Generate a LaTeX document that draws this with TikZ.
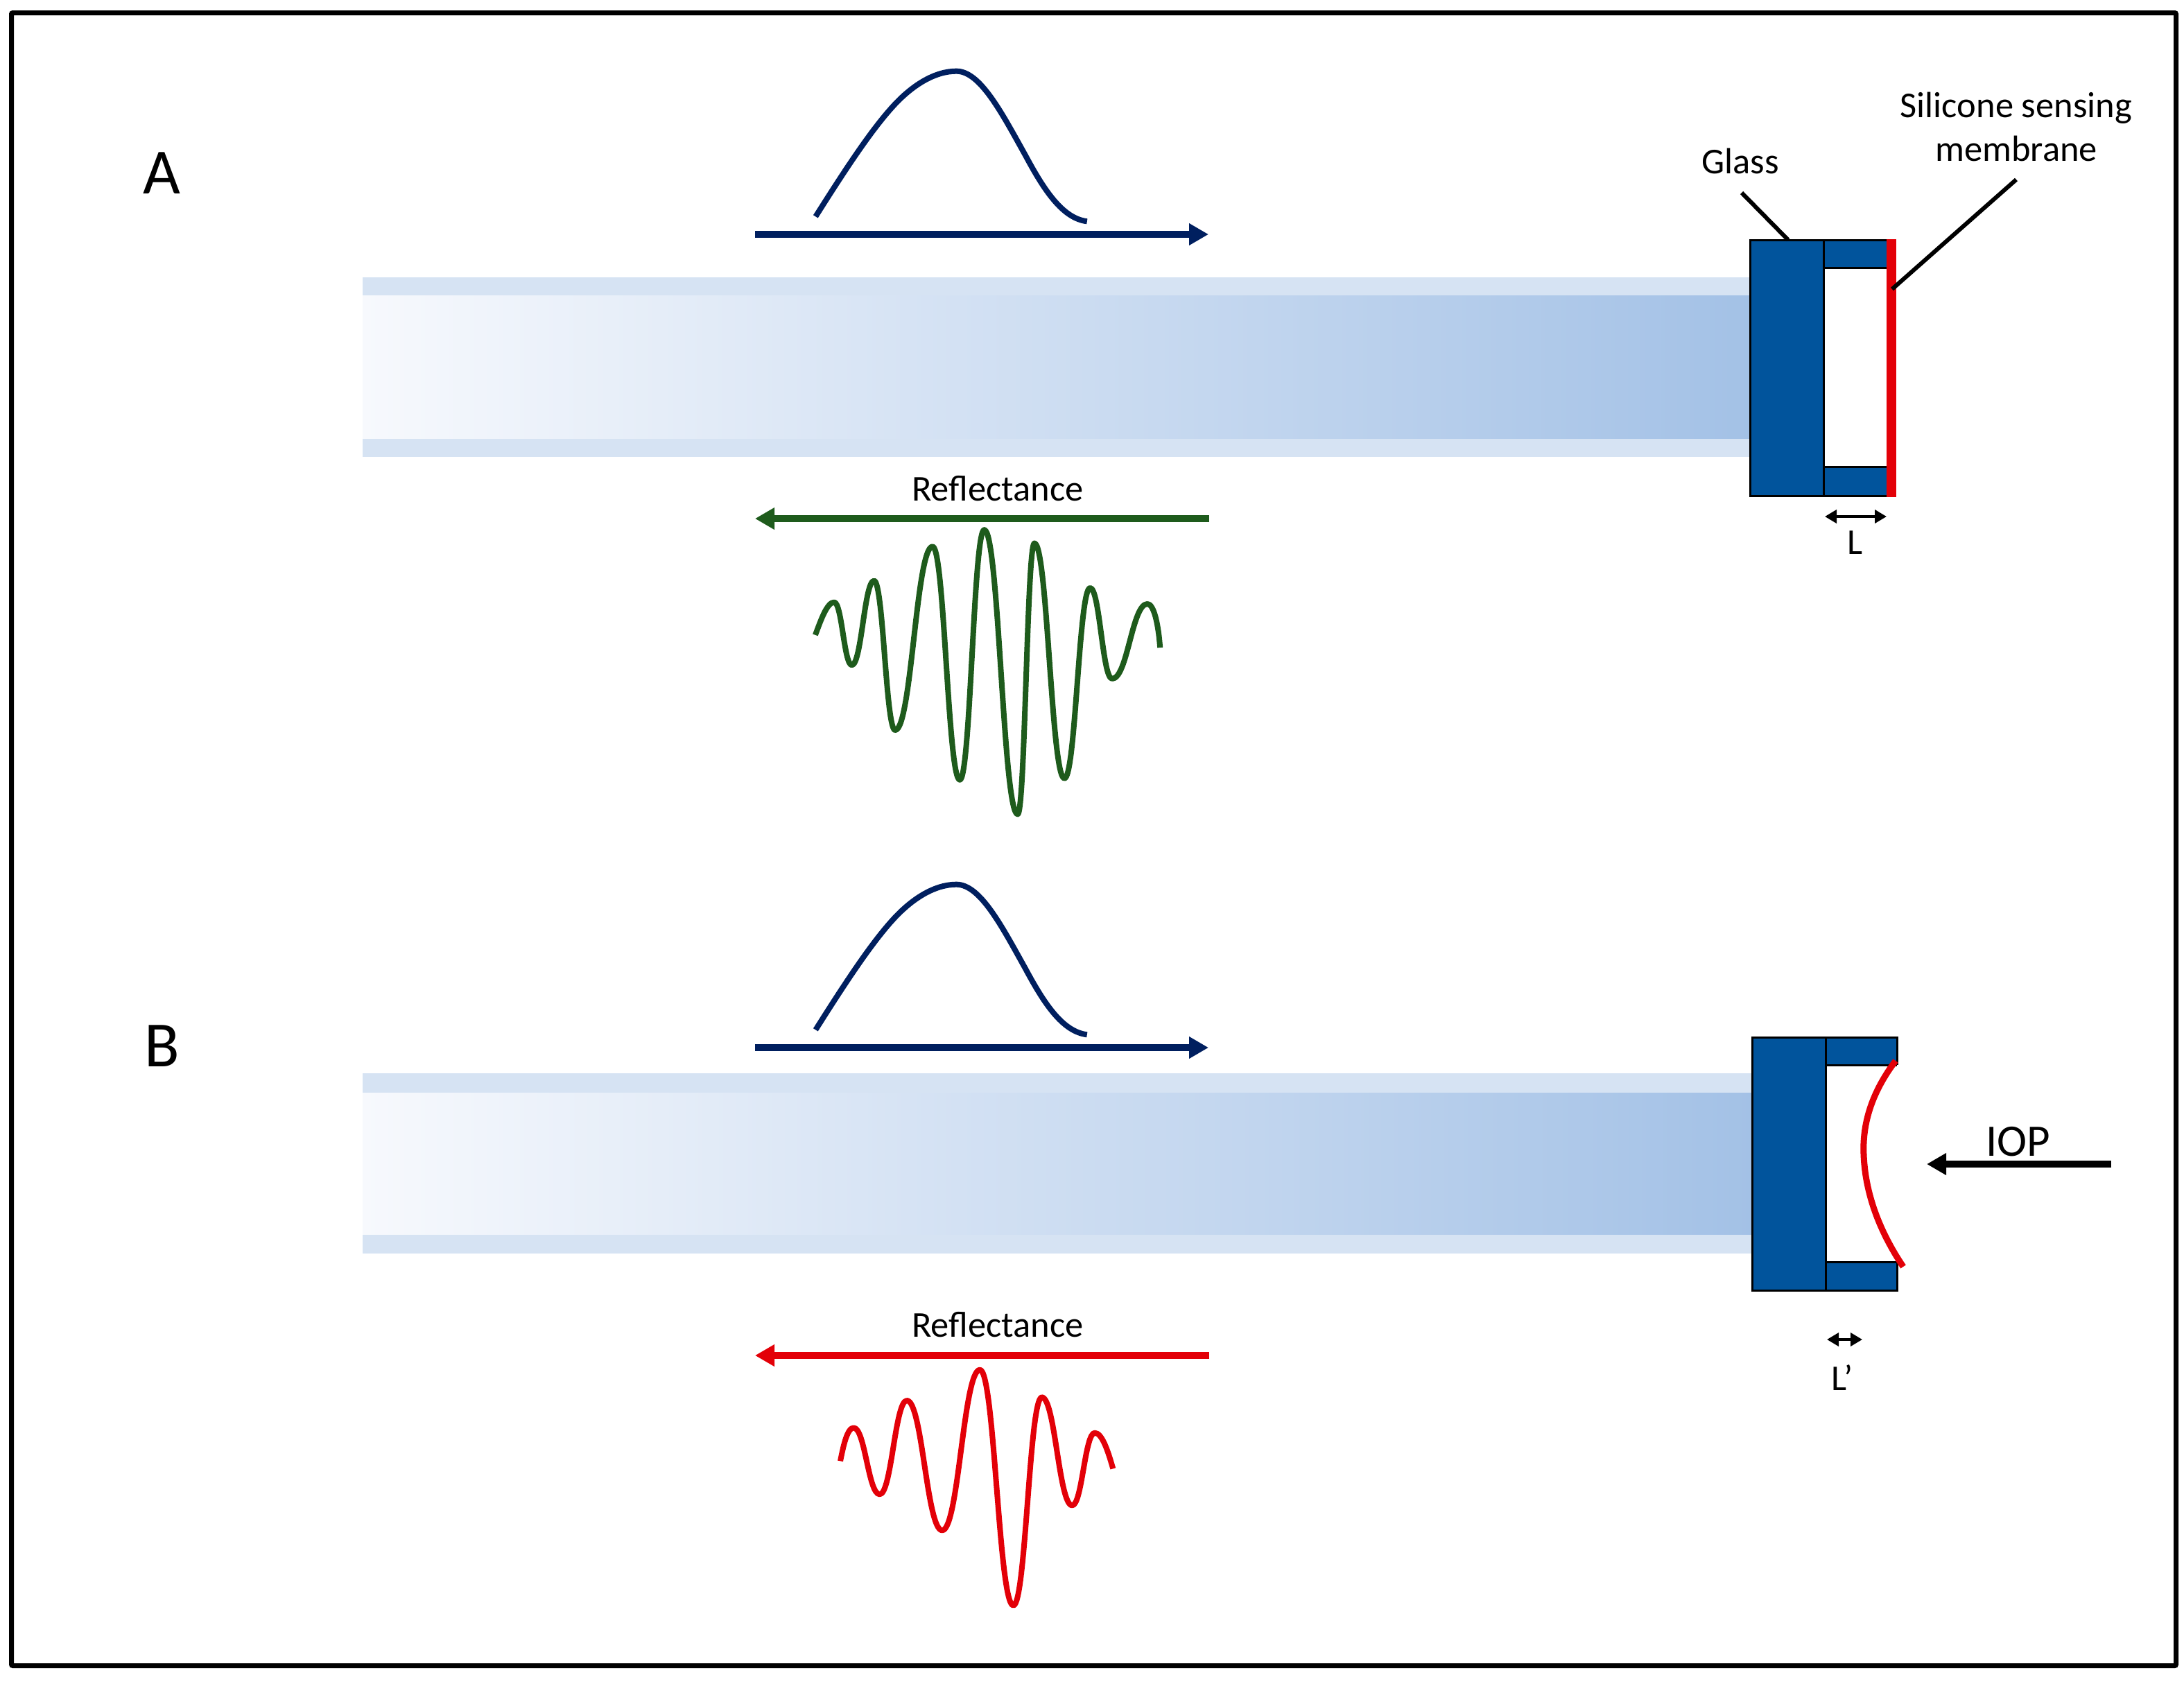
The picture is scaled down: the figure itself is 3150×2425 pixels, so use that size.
\documentclass[tikz,border=0pt]{standalone}
\usepackage{fontspec}
\setmainfont{Carlito}
\usetikzlibrary{arrows.meta}
\definecolor{glassblue}{HTML}{01549C}
\definecolor{band}{HTML}{D6E3F3}
\definecolor{fibL}{HTML}{F7F9FD}
\definecolor{fibM}{HTML}{D6E2F2}
\definecolor{fibR}{HTML}{A3C1E6}
\definecolor{navy}{HTML}{001F5F}
\definecolor{wavegreen}{HTML}{1E5B1C}
\definecolor{sigred}{HTML}{E30008}
\tikzset{
  x=1pt,y=-1pt,
  txt/.style={inner sep=0pt,outer sep=0pt,anchor=base,align=center,font=\fontsize{52.5}{63}\selectfont,text=black},
  big/.style={txt,font=\fontsize{93}{93}\selectfont},
  mid/.style={txt,font=\fontsize{65}{65}\selectfont},
  thickarrow/.style={line width=9.5pt,-{Triangle[length=28pt,width=30pt]}},
  tinyarrow/.style={line width=4pt,{Triangle[length=17pt,width=19pt]}-{Triangle[length=17pt,width=19pt]}},
  leader/.style={line width=6pt,black},
  wave/.style={line width=8pt,line join=round},
  block/.style={draw=black,line width=3pt,fill=glassblue},
  cavity/.style={fill=white},
  edge/.style={line width=3pt,black}
}
% segment between two extrema with horizontal tangents
\def\seg(#1,#2)(#3,#4){.. controls ({#1+0.44*(#3-#1)},#2) and ({#3-0.44*(#3-#1)},#4) .. (#3,#4)}
\begin{document}
\begin{tikzpicture}
\useasboundingbox (0,0) rectangle (3150,2425);
\fill[white] (0,0) rectangle (3150,2425);
\draw[line width=7pt,black,rounded corners=2pt] (16.5,18.5) rectangle (3138.5,2402.5);

% ---------- Panel A ----------
\node[big] (labA) at (233,279) {A};
\fill[band] (523,400) rectangle (2526,659);
\shade[left color=fibL,middle color=fibM,right color=fibR] (523,426) rectangle (2526,632);
\draw[block] (2524,346) rectangle (2733,715);
\fill[cavity] (2630,386) rectangle (2723,673);
\draw[edge] (2630,346) -- (2630,715);
\draw[edge] (2630,386) -- (2723,386);
\draw[edge] (2630,673) -- (2723,673);
\fill[sigred] (2721,344.5) rectangle (2735,716.5);

\node[txt] (glass) at (2510,250) {Glass};
\node[txt] (silicone) at (2908,169) {Silicone sensing};
\node[txt] (membrane) at (2908,232) {membrane};
\coordinate (gS) at (2512,278);
\coordinate (gE) at (2579,346);
\coordinate (mS) at (2908,259);
\coordinate (mE) at (2729,417);
\draw[leader] (gS) -- (gE);
\draw[leader] (mS) -- (mE);
\coordinate (lL) at (2632,745);
\coordinate (lR) at (2721,745);
\draw[tinyarrow] (lL) -- (lR);
\node[txt] (lab) at (2675,799) {L};

\coordinate (inAs) at (1089,338);
\coordinate (inAe) at (1743,338);
\draw[thickarrow,navy] (inAs) -- (inAe);
\coordinate (outAs) at (1744,748);
\coordinate (outAe) at (1089,748);
\draw[thickarrow,wavegreen] (outAs) -- (outAe);
\node[txt] (refA) at (1439,722) {Reflectance};

\begin{scope}[shift={(1050,70)},x=0.4464pt,y=-0.3333pt]
\draw[wave,navy] (283,727) .. controls (390,500) and (470,340) .. (540,240)
  .. controls (600,155) and (670,98) .. (738,98)
  .. controls (815,98) and (885,280) .. (960,460)
  .. controls (1020,610) and (1080,735) .. (1160,748);
\end{scope}

\begin{scope}[shift={(1050,660)},x=0.4464pt,y=-0.3448pt]
\draw[wave,wavegreen] (282,742) .. controls (300,680) and (320,605) .. (343,605)
  \seg(343,605)(400,868) \seg(400,868)(472,515) \seg(472,515)(540,1140)
  \seg(540,1140)(661,372) \seg(661,372)(749,1348) \seg(749,1348)(828,302)
  \seg(828,302)(936,1492) \seg(936,1492)(990,358) \seg(990,358)(1087,1342)
  \seg(1087,1342)(1170,545) \seg(1170,545)(1241,925) \seg(1241,925)(1355,612)
  .. controls (1375,612) and (1390,690) .. (1396,795);
\end{scope}

% ---------- Panel B ----------
\node[big] (labB) at (234,1538) {B};
\fill[band] (523,1548) rectangle (2529,1808);
\shade[left color=fibL,middle color=fibM,right color=fibR] (523,1576) rectangle (2529,1780);
\draw[block] (2527,1496) rectangle (2736,1861);
\fill[cavity] (2633,1536) rectangle (2739,1820);
\draw[edge] (2633,1496) -- (2633,1861);
\draw[edge] (2633,1536) -- (2736,1536);
\draw[edge] (2633,1820) -- (2736,1820);
\coordinate (memT) at (2734,1530);
\coordinate (memB) at (2745,1827);
\draw[line width=9pt,sigred] (memT) .. controls (2700,1575) and (2686,1620) .. (2688,1665)
  .. controls (2690,1720) and (2710,1775) .. (memB);

\coordinate (iopS) at (3045,1679);
\coordinate (iopE) at (2779,1679);
\draw[thickarrow,black] (iopS) -- (iopE);
\node[mid] (iop) at (2911,1667) {IOP};
\coordinate (lpL) at (2635,1932);
\coordinate (lpR) at (2686,1932);
\draw[tinyarrow] (lpL) -- (lpR);
\node[txt] (labp) at (2657,2005) {L’};

\coordinate (inBs) at (1089,1511);
\coordinate (inBe) at (1743,1511);
\draw[thickarrow,navy] (inBs) -- (inBe);
\coordinate (outBs) at (1744,1955);
\coordinate (outBe) at (1089,1955);
\draw[thickarrow,sigred] (outBs) -- (outBe);
\node[txt] (refB) at (1439,1928) {Reflectance};

\begin{scope}[shift={(1050,1243)},x=0.4464pt,y=-0.3333pt]
\draw[wave,navy] (283,727) .. controls (390,500) and (470,340) .. (540,240)
  .. controls (600,155) and (670,98) .. (738,98)
  .. controls (815,98) and (885,280) .. (960,460)
  .. controls (1020,610) and (1080,735) .. (1160,748);
\end{scope}

\begin{scope}[shift={(1050,1860)},x=0.4464pt,y=-0.3333pt]
\draw[wave,sigred] (363,742) .. controls (372,680) and (385,598) .. (406,598)
  \seg(406,598)(490,886) \seg(490,886)(578,480) \seg(578,480)(692,1042)
  \seg(692,1042)(814,347) \seg(814,347)(922,1367) \seg(922,1367)(1014,466)
  \seg(1014,466)(1112,934) \seg(1112,934)(1185,620)
  .. controls (1210,620) and (1230,710) .. (1244,775);
\end{scope}
\end{tikzpicture}
\end{document}
